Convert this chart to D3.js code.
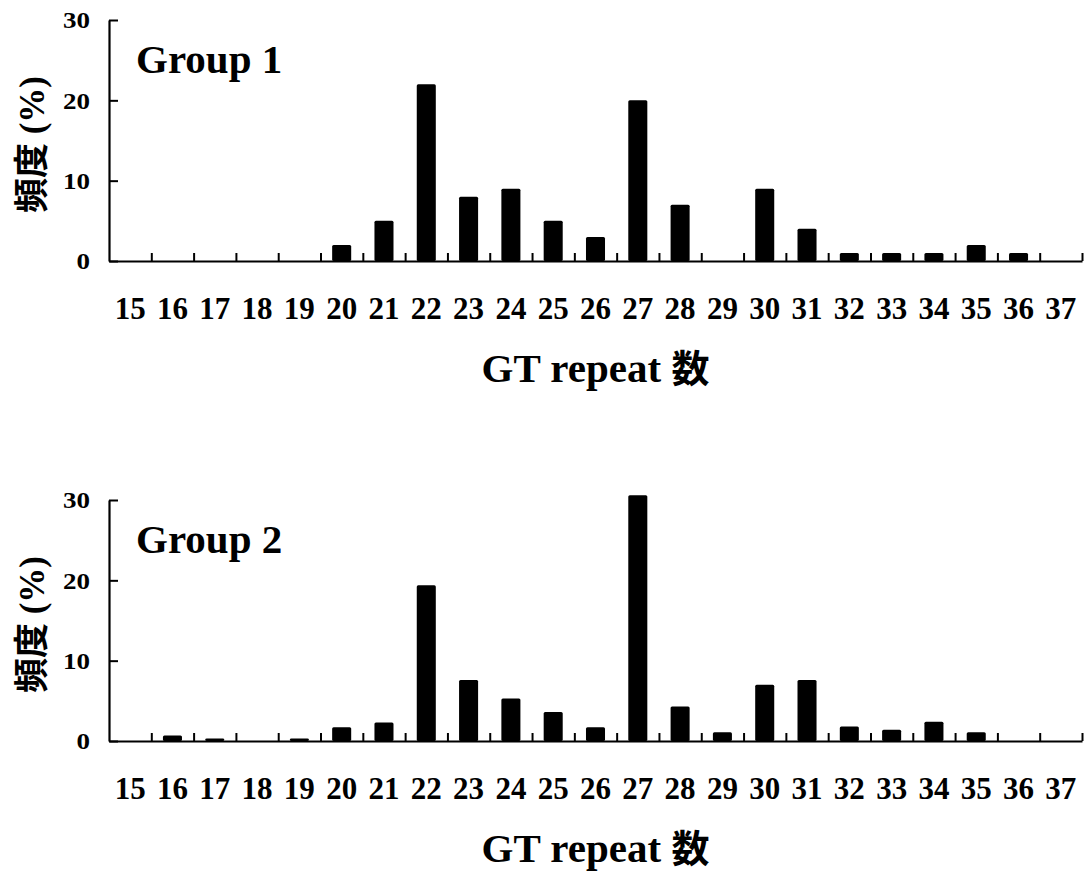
<!DOCTYPE html>
<html>
<head>
<meta charset="utf-8">
<script src="https://cdn.jsdelivr.net/npm/d3@7"></script>
<style>
  body { margin: 0; background: #fff; }
  svg text { fill: #000; }
  .serif { font-family: "Liberation Serif", "Times New Roman", serif; font-weight: bold; }
</style>
</head>
<body>
<svg id="chart" width="1089" height="874"></svg>
<script>
// GT repeat counts on the x axis
const repeats = [15, 16, 17, 18, 19, 20, 21, 22, 23, 24, 25, 26, 27, 28, 29, 30, 31, 32, 33, 34, 35, 36, 37];
// frequency (%) per repeat count
const group1 = [0, 0, 0, 0, 0, 2, 5, 22, 8, 9, 5, 3, 20, 7, 0, 9, 4, 1, 1, 1, 2, 1, 0];
const group2 = [0, 0.7, 0.3, 0, 0.3, 1.7, 2.3, 19.4, 7.6, 5.3, 3.6, 1.7, 30.6, 4.3, 1.1, 7.0, 7.6, 1.8, 1.4, 2.4, 1.1, 0, 0];
const yTicks = [0, 10, 20, 30];
const panelNames = ["Group 1", "Group 2"];

const svg = d3.select('#chart');

const conf = {
  left: 109,
  right: 1082,
  panels: [ { top: 20, bottom: 261 }, { top: 500, bottom: 741 } ]
};

const x = d3.scaleBand()
  .domain(repeats)
  .range([conf.left, conf.right])
  .paddingInner(0.55)
  .paddingOuter(0.275);

// linear twin of the band scale, used for the boundary tick marks
const xEdge = d3.scaleLinear()
  .domain([repeats[0] - 0.5, repeats[repeats.length - 1] + 0.5])
  .range([conf.left, conf.right]);

function drawPanel(values, name, p) {
  const y = d3.scaleLinear().domain([0, 30]).range([p.bottom, p.top]);
  const g = svg.append('g');

  // bars
  g.selectAll('rect')
    .data(values.map((v, i) => ({ r: repeats[i], v: v })))
  .enter().append('rect')
    .attr('x', d => x(d.r))
    .attr('width', x.bandwidth())
    .attr('y', d => y(d.v))
    .attr('height', d => p.bottom - y(d.v))
    .attr('rx', 1.5)
    .attr('fill', '#000');

  // tick marks between categories, pointing up
  const edgeAxis = d3.axisBottom(xEdge)
    .tickValues(repeats.map(r => r + 0.5))
    .tickSizeInner(-8)
    .tickSizeOuter(0)
    .tickFormat('');
  g.append('g')
    .attr('transform', `translate(0,${p.bottom})`)
    .call(edgeAxis)
    .call(a => a.selectAll('line').attr('stroke', '#000').attr('stroke-width', 2))
    .call(a => a.select('.domain').attr('stroke', '#000').attr('stroke-width', 2.2));

  // category labels
  g.append('g')
    .attr('class', 'serif')
    .attr('transform', `translate(0,${p.bottom})`)
    .call(d3.axisBottom(x).tickSize(0).tickPadding(36))
    .call(a => a.select('.domain').remove())
    .call(a => a.selectAll('text').attr('font-size', 31).attr('font-family', null));

  // y axis
  g.append('g')
    .attr('class', 'serif')
    .attr('transform', `translate(${conf.left},0)`)
    .call(d3.axisLeft(y).tickValues(yTicks).tickSizeInner(-9).tickSizeOuter(0).tickPadding(19))
    .call(a => a.selectAll('line').attr('stroke', '#000').attr('stroke-width', 2))
    .call(a => a.select('.domain').attr('stroke', '#000').attr('stroke-width', 2.2))
    .call(a => a.selectAll('text')
      .attr('font-size', 24)
      .attr('font-family', null)
      .attr('textLength', d => String(d).length * 13.5)
      .attr('lengthAdjust', 'spacingAndGlyphs'));

  // group name
  g.append('text')
    .attr('class', 'serif')
    .attr('x', 136)
    .attr('y', p.top + 53)
    .attr('font-size', 41)
    .text(name);

  // y label
  const yl = g.append('text')
    .attr('transform', `translate(44,${(p.top + p.bottom) / 2 + 4}) rotate(-90)`)
    .attr('text-anchor', 'middle')
    .attr('font-size', 35);
  yl.append('tspan')
    .attr('font-family', '"Noto Sans CJK JP", sans-serif')
    .attr('font-weight', 'bold')
    .text('頻度');
  yl.append('tspan')
    .attr('class', 'serif')
    .text(' (%)');

  // x label
  const xl = g.append('text')
    .attr('x', (conf.left + conf.right) / 2)
    .attr('y', p.bottom + 121)
    .attr('text-anchor', 'middle')
    .attr('font-size', 41);
  xl.append('tspan')
    .attr('class', 'serif')
    .text('GT repeat ');
  xl.append('tspan')
    .attr('font-family', '"Noto Sans CJK JP", sans-serif')
    .attr('font-weight', 'bold')
    .attr('font-size', 38)
    .text('数');
}

drawPanel(group1, panelNames[0], conf.panels[0]);
drawPanel(group2, panelNames[1], conf.panels[1]);
</script>
</body>
</html>
